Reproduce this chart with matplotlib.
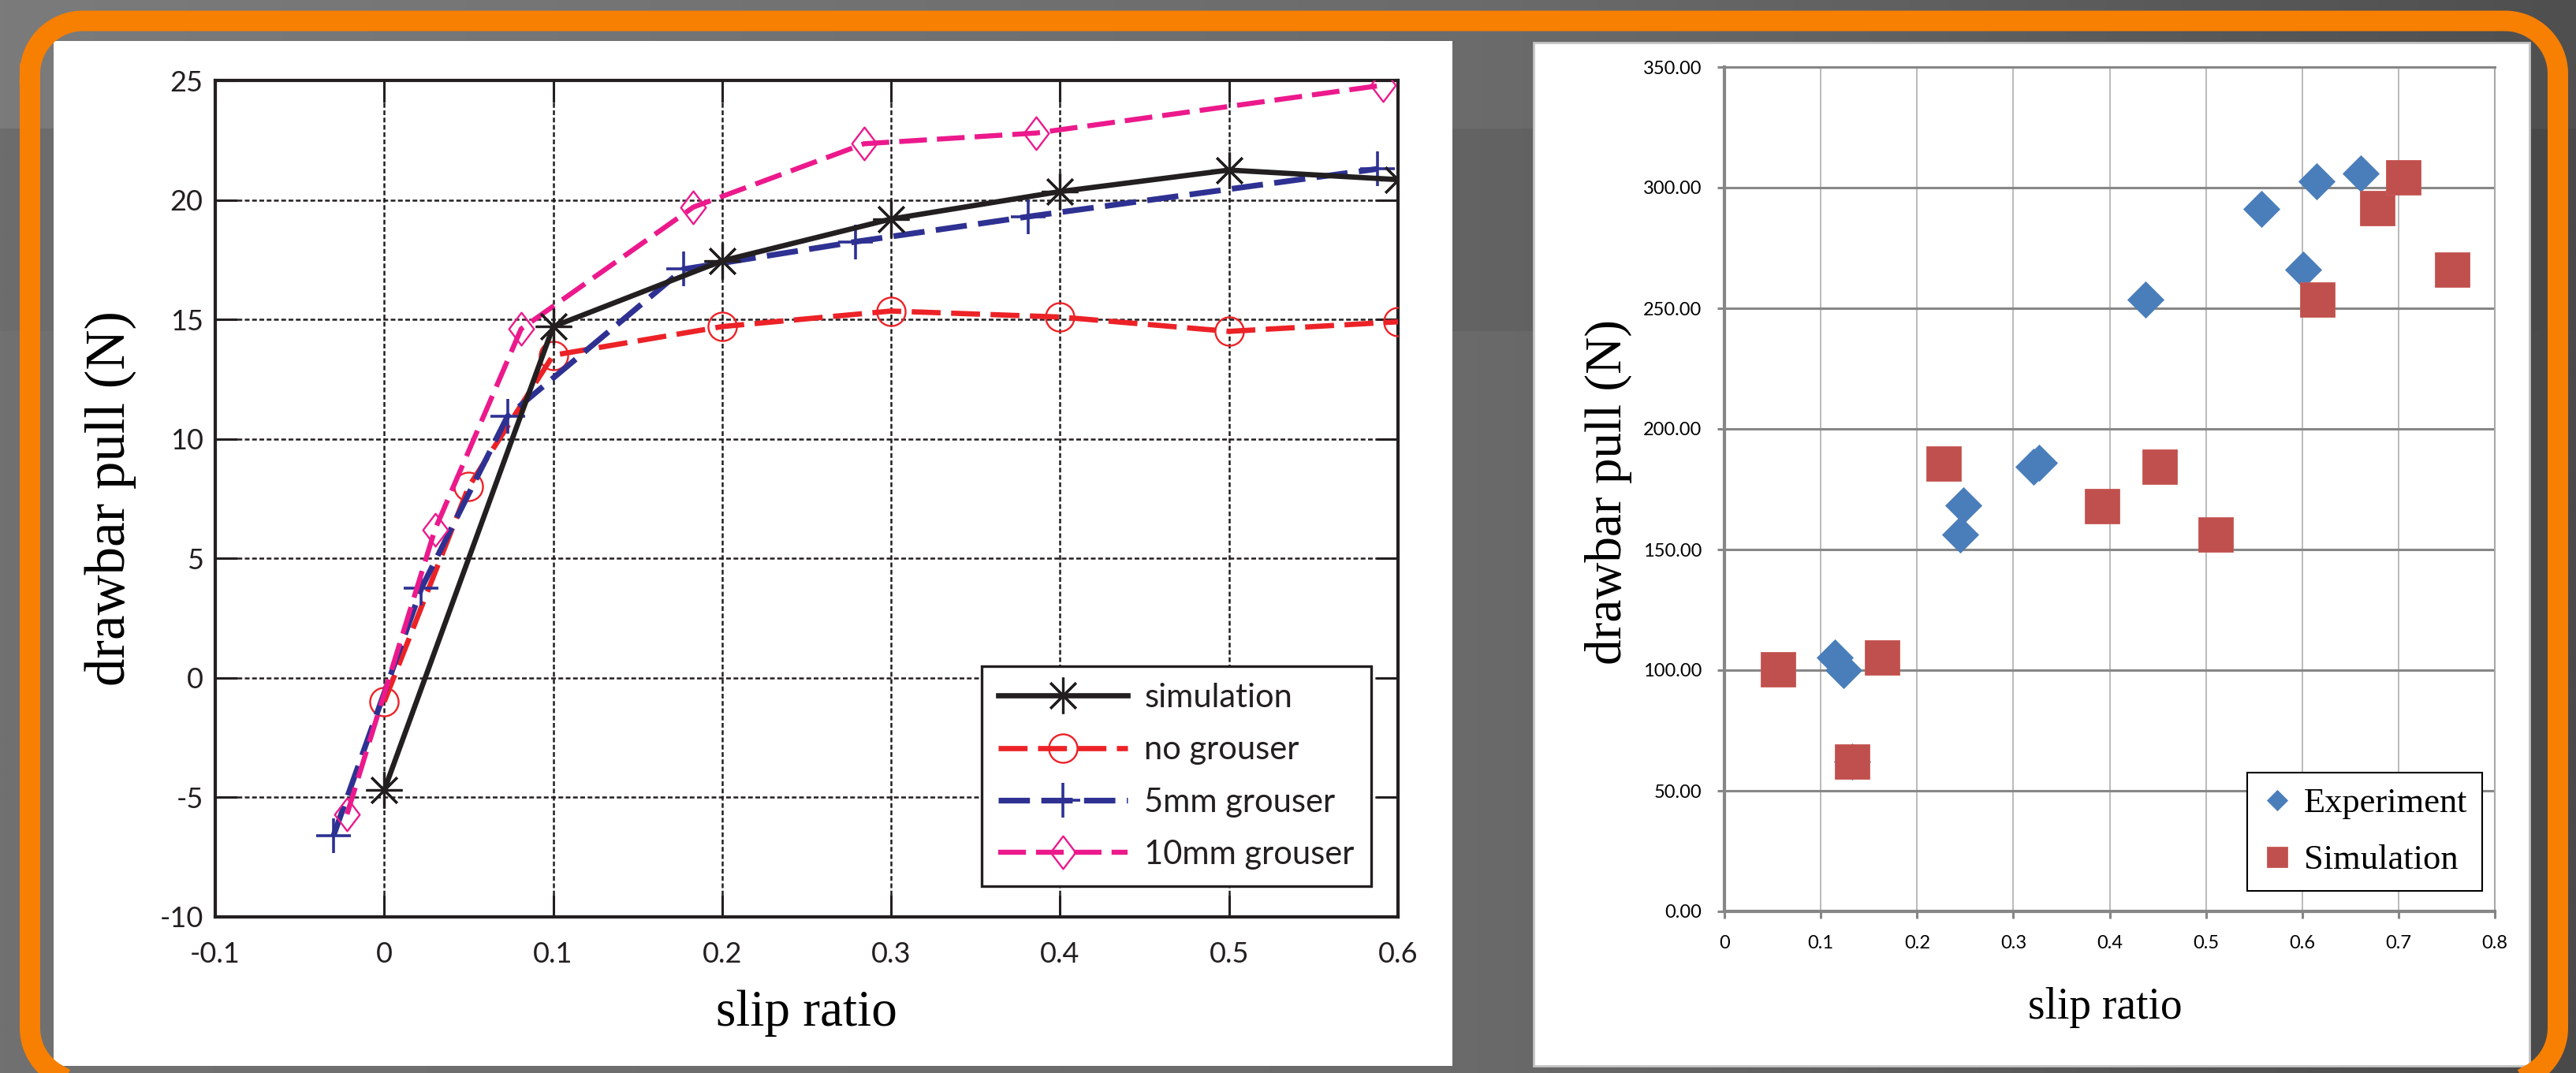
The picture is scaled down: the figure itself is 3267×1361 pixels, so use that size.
import numpy as np
import matplotlib
matplotlib.use("Agg")
import matplotlib.pyplot as plt
from matplotlib.patches import Rectangle
from matplotlib.path import Path

plt.rcParams['axes.unicode_minus'] = False

# ---------------- data: left chart (MATLAB-style line chart) ----------------
sim_x = [0.0, 0.1, 0.2, 0.3, 0.4, 0.5, 0.6]
sim_y = [-4.7, 14.7, 17.45, 19.2, 20.35, 21.25, 20.85]
nog_x = [0.0, 0.05, 0.1, 0.2, 0.3, 0.4, 0.5, 0.6]
nog_y = [-1.0, 8.0, 13.5, 14.7, 15.35, 15.1, 14.5, 14.9]
g5_x = [-0.03, 0.022, 0.073, 0.177, 0.279, 0.381, 0.588]
g5_y = [-6.6, 3.75, 10.95, 17.1, 18.25, 19.3, 21.3]
g10_x = [-0.022, 0.03, 0.081, 0.183, 0.284, 0.386, 0.591]
g10_y = [-5.7, 6.2, 14.6, 19.7, 22.35, 22.8, 24.8]
left_labels = ["simulation", "no grouser", "5mm grouser", "10mm grouser"]
left_xticks = [-0.1, 0, 0.1, 0.2, 0.3, 0.4, 0.5, 0.6]
left_xticklabels = ["-0.1", "0", "0.1", "0.2", "0.3", "0.4", "0.5", "0.6"]
left_yticks = [-10, -5, 0, 5, 10, 15, 20, 25]

# ---------------- data: right chart (Excel-style scatter) ----------------
exp_x = [0.115, 0.124, 0.133, 0.245, 0.248, 0.321, 0.327, 0.437, 0.558, 0.601, 0.615, 0.661]
exp_y = [105.1, 100.0, 62.0, 156.3, 168.3, 184.2, 185.9, 253.6, 291.3, 266.1, 302.7, 305.8]
simr_x = [0.056, 0.133, 0.164, 0.228, 0.392, 0.452, 0.510, 0.616, 0.678, 0.705, 0.756]
simr_y = [100.4, 62.1, 105.1, 185.7, 168.1, 184.4, 156.3, 253.6, 291.5, 304.2, 266.1]
right_labels = ["Experiment", "Simulation"]
right_xticks = [0, 0.1, 0.2, 0.3, 0.4, 0.5, 0.6, 0.7, 0.8]
right_xticklabels = ["0", "0.1", "0.2", "0.3", "0.4", "0.5", "0.6", "0.7", "0.8"]
right_yticks = [0, 50, 100, 150, 200, 250, 300, 350]

W, H = 3267, 1361
fig = plt.figure(figsize=(W / 100, H / 100), dpi=100)

# ---------------- slide background ----------------
bg = fig.add_axes([0, 0, 1, 1])
bg.axis('off')

def band(y0, y1, stops):
    xs = np.linspace(0, W, 400)
    vals = np.interp(xs, [0, 1880, W], stops) / 255.0
    img = np.repeat(vals[None, :, None], 3, axis=2)
    bg.imshow(img, extent=(0, W, y1, y0), aspect='auto', interpolation='bilinear', zorder=0)

band(0, 163, [0x7b, 0x6b, 0x4f])
band(163, 420, [0x6d, 0x63, 0x48])
band(420, H, [0x71, 0x6a, 0x49])

bg.add_patch(Rectangle((68, 52), 1842 - 68, 1352 - 52, facecolor='white', edgecolor='none', zorder=1))
bg.add_patch(Rectangle((1945, 54), 3208 - 1945, 1352 - 54, facecolor='white', edgecolor='#c4c4c4',
                       lw=2.0, zorder=1))

# orange rounded frame (stroke centre line, pixel coordinates)
fx0, fy0, fx1, fy1, fr = 38.0, 26.5, 3244.0, 1371.0, 67.0
def arc(cx, cy, a0, a1):
    t = np.radians(np.linspace(a0, a1, 30))
    return cx + fr * np.cos(t), cy + fr * np.sin(t)
segs = [arc(fx0 + fr, fy0 + fr, 180, 270), arc(fx1 - fr, fy0 + fr, 270, 360),
        arc(fx1 - fr, fy1 - fr, 0, 90), arc(fx0 + fr, fy1 - fr, 90, 180)]
px = np.concatenate([s[0] for s in segs] + [segs[0][0][:1]])
py = np.concatenate([s[1] for s in segs] + [segs[0][1][:1]])
bg.plot(px, py, color='#f77f02', lw=26 * 0.72, solid_joinstyle='round', zorder=3)

bg.set_xlim(0, W)
bg.set_ylim(H, 0)

# ---------------- left chart ----------------
axL = fig.add_axes([273 / W, 1 - 1163 / H, 1500 / W, 1061 / H])
axL.set_xlim(-0.1, 0.6)
axL.set_ylim(-10, 25)
axL.set_axisbelow(True)
axL.grid(True, color='#231f20', lw=1.8, linestyle=(0, (2.4, 1.3)))

dash = (0, (5.5, 2.0))
star = (8, 2, 0)
thin_diamond = Path([(0, 1), (0.76, 0), (0, -1), (-0.76, 0), (0, 1)],
                    [Path.MOVETO, Path.LINETO, Path.LINETO, Path.LINETO, Path.CLOSEPOLY])

axL.plot(sim_x, sim_y, color='#231f20', lw=4.8, marker=star, ms=33, mew=2.3,
         label=left_labels[0], zorder=5)
axL.plot(nog_x, nog_y, color='#ec2227', lw=4.8, linestyle=dash, marker='o', ms=26,
         mfc='none', mec='#ec2227', mew=1.7, label=left_labels[1], zorder=3)
axL.plot(g5_x, g5_y, color='#2e3192', lw=5.2, linestyle=dash, marker='+', ms=31,
         mew=2.6, label=left_labels[2], zorder=4)
axL.plot(g10_x, g10_y, color='#ec198c', lw=4.6, linestyle=dash, marker=thin_diamond, ms=30,
         mfc='none', mec='#ec198c', mew=1.7, label=left_labels[3], zorder=4)

axL.set_xticks(left_xticks)
axL.set_xticklabels(left_xticklabels)
axL.set_yticks(left_yticks)
axL.tick_params(direction='in', length=20, width=2.2, color='#231f20',
                top=True, right=True, labelsize=26, labelcolor='#231f20')
axL.tick_params(axis='x', pad=22)
axL.tick_params(axis='y', pad=11)
for lab in axL.get_xticklabels() + axL.get_yticklabels():
    lab.set_family(['Lato', 'DejaVu Sans'])
for s in axL.spines.values():
    s.set_linewidth(3.0)
    s.set_color('#231f20')

axL.set_xlabel('slip ratio', family=['Liberation Serif', 'DejaVu Serif'], fontsize=47, va='center')
axL.xaxis.set_label_coords(0.5, -0.115)
axL.set_ylabel('drawbar pull (N)', family=['Liberation Serif', 'DejaVu Serif'], fontsize=51, va='center')
axL.yaxis.set_label_coords(-0.0887, 0.5)

legL = axL.legend(loc='lower right', bbox_to_anchor=(0.977, 0.037),
                  prop={'family': ['Lato', 'DejaVu Sans'], 'size': 30},
                  handlelength=3.95, handletextpad=0.5, labelspacing=0.68,
                  borderpad=0.5, borderaxespad=0, fancybox=False, framealpha=1)
legL.get_frame().set_edgecolor('#231f20')
legL.get_frame().set_linewidth(2.4)
for t in legL.get_texts():
    t.set_color('#231f20')

# ---------------- right chart ----------------
axR = fig.add_axes([2187 / W, 1 - 1156 / H, 977 / W, 1071 / H])
axR.set_xlim(0, 0.8)
axR.set_ylim(0, 350)
axR.set_axisbelow(True)
axR.xaxis.grid(True, color='#b4b4b4', lw=1.3)
axR.yaxis.grid(True, color='#878787', lw=2.2)

axR.plot(exp_x, exp_y, linestyle='none', marker='D', ms=23.4, color='#4a7ebb',
         mec='#4a7ebb', mew=0.6, label=right_labels[0], zorder=3)
axR.plot(simr_x, simr_y, linestyle='none', marker='s', ms=32, color='#c0504d',
         mec='#c85a57', mew=0.6, label=right_labels[1], zorder=4)

axR.set_xticks(right_xticks)
axR.set_xticklabels(right_xticklabels)
axR.set_yticks(right_yticks)
axR.set_yticklabels([f"{v:.2f}" for v in right_yticks])
axR.tick_params(direction='out', length=6.5, width=2.2, color='#868686',
                labelsize=17, labelcolor='black')
axR.tick_params(axis='x', pad=15)
axR.tick_params(axis='y', pad=14)
for lab in axR.get_xticklabels() + axR.get_yticklabels():
    lab.set_family(['Lato', 'DejaVu Sans'])
axR.spines['left'].set_color('#868686')
axR.spines['left'].set_linewidth(3.0)
axR.spines['bottom'].set_color('#868686')
axR.spines['bottom'].set_linewidth(3.0)
axR.spines['top'].set_color('#878787')
axR.spines['top'].set_linewidth(2.2)
axR.spines['right'].set_color('#a8a8a8')
axR.spines['right'].set_linewidth(1.5)

axR.set_xlabel('slip ratio', family=['Liberation Serif', 'DejaVu Serif'], fontsize=40, va='center')
axR.xaxis.set_label_coords(0.494, -0.114)
axR.set_ylabel('drawbar pull (N)', family=['Liberation Serif', 'DejaVu Serif'], fontsize=47, va='center')
axR.yaxis.set_label_coords(-0.150, 0.497)

legR = axR.legend(loc='lower right', bbox_to_anchor=(0.9836, 0.0243),
                  prop={'family': ['Liberation Serif', 'DejaVu Serif'], 'size': 32},
                  markerscale=0.58, handlelength=0.9, handletextpad=0.3, labelspacing=0.72,
                  borderpad=0.42, borderaxespad=0, fancybox=False, framealpha=1)
legR.get_frame().set_edgecolor('black')
legR.get_frame().set_linewidth(1.5)

fig.savefig('out.png', dpi=100)
